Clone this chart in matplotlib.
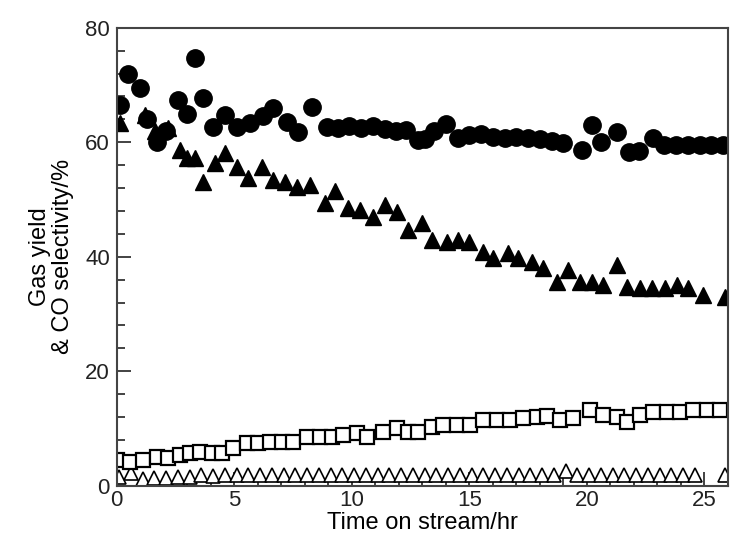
import matplotlib

matplotlib.use("Agg")

import matplotlib.pyplot as plt
from matplotlib.ticker import MultipleLocator

plt.rcParams["font.family"] = ["Liberation Sans", "DejaVu Sans"]

# gas yield (filled circles)
circle_x = [0.13, 0.47, 0.98, 1.3, 1.7, 2.1, 2.6, 2.98, 3.32, 3.66, 4.09, 4.6,
            5.1, 5.66, 6.2, 6.64, 7.23, 7.7, 8.3, 8.94, 9.4, 9.9, 10.4, 10.9,
            11.4, 11.9, 12.3, 12.8, 13.1, 13.5, 14.0, 14.5, 15.0, 15.5, 16.0,
            16.5, 17.0, 17.5, 18.0, 18.5, 19.0, 19.8, 20.2, 20.6, 21.3, 21.8,
            22.2, 22.8, 23.3, 23.8, 24.3, 24.8, 25.3, 25.8]
circle_y = [66.5, 72.0, 69.5, 64.0, 60.0, 62.0, 67.4, 65.0, 74.7, 67.8, 62.7,
            64.8, 62.7, 63.4, 64.5, 66.0, 63.6, 61.8, 66.2, 62.7, 62.5, 62.8,
            62.5, 62.8, 62.3, 62.0, 62.2, 60.4, 60.6, 62.0, 63.2, 60.8, 61.3,
            61.5, 61.0, 60.8, 61.0, 60.8, 60.5, 60.2, 59.8, 58.7, 63.0, 60.0,
            61.8, 58.3, 58.5, 60.8, 59.6, 59.6, 59.6, 59.6, 59.6, 59.6]

# CO selectivity (filled triangles)
tri_x = [0.13, 1.19, 1.62, 2.17, 2.68, 2.98, 3.32, 3.66, 4.17, 4.6, 5.1, 5.57,
         6.17, 6.64, 7.15, 7.66, 8.21, 8.85, 9.28, 9.83, 10.34, 10.89, 11.4,
         11.91, 12.38, 12.98, 13.4, 14.04, 14.5, 15.0, 15.57, 16.0, 16.64,
         17.06, 17.66, 18.13, 18.72, 19.19, 19.7, 20.21, 20.68, 21.28, 21.7,
         22.26, 22.77, 23.32, 23.83, 24.3, 24.94, 25.87]
tri_y = [63.4, 64.8, 62.0, 62.5, 58.7, 57.3, 57.3, 53.1, 56.4, 58.2, 55.7, 53.8,
         55.7, 53.4, 53.1, 52.1, 52.6, 49.4, 51.4, 48.6, 48.2, 47.0, 49.1, 47.9,
         44.7, 45.9, 43.0, 42.6, 43.0, 42.6, 40.9, 39.8, 40.7, 39.8, 39.0, 38.1,
         35.6, 37.7, 35.6, 35.6, 35.1, 38.6, 34.8, 34.6, 34.6, 34.6, 35.1, 34.6,
         33.4, 33.0]

# open squares
sq_x = [0.0, 0.55, 1.1, 1.7, 2.17, 2.68, 3.1, 3.53, 4.04, 4.47, 4.94, 5.53,
        6.0, 6.51, 7.02, 7.49, 8.09, 8.64, 9.15, 9.62, 10.2, 10.64, 11.32,
        11.91, 12.38, 12.81, 13.4, 13.87, 14.47, 15.02, 15.57, 16.17, 16.72,
        17.28, 17.87, 18.3, 18.85, 19.4, 20.13, 20.68, 21.28, 21.7, 22.26,
        22.81, 23.4, 23.96, 24.51, 25.1, 25.66]
sq_y = [4.5, 4.2, 4.5, 5.1, 4.9, 5.4, 5.8, 5.9, 5.8, 5.8, 6.6, 7.5, 7.5, 7.7,
        7.7, 7.7, 8.6, 8.6, 8.6, 8.9, 9.3, 8.6, 9.4, 10.1, 9.4, 9.4, 10.3, 10.7,
        10.7, 10.7, 11.5, 11.5, 11.5, 11.9, 12.1, 12.2, 11.5, 11.9, 13.3, 12.4,
        12.1, 11.2, 12.4, 12.9, 12.9, 12.9, 13.3, 13.3, 13.3]

# open triangles
otri_x = [0.1, 0.6, 1.1, 1.6, 2.1, 2.6, 3.1, 3.6, 4.1, 4.6, 5.1, 5.6, 6.1,
          6.6, 7.1, 7.6, 8.1, 8.6, 9.1, 9.6, 10.1, 10.6, 11.1, 11.6, 12.1,
          12.6, 13.1, 13.6, 14.1, 14.6, 15.1, 15.6, 16.1, 16.6, 17.1, 17.6,
          18.1, 18.6, 19.1, 19.6, 20.1, 20.6, 21.1, 21.6, 22.1, 22.6, 23.1,
          23.6, 24.1, 24.6, 25.9]
otri_y = [1.6, 2.2, 1.2, 1.4, 1.3, 1.6, 1.5, 1.8, 1.7, 1.8, 1.9, 1.9, 1.8,
          1.9, 1.8, 1.9, 1.8, 1.9, 1.8, 1.9, 1.8, 1.9, 1.8, 1.9, 1.8, 1.9,
          1.8, 1.9, 1.8, 1.9, 1.8, 1.9, 1.8, 1.9, 1.8, 1.9, 1.8, 1.9, 2.6,
          1.8, 1.9, 1.8, 1.9, 1.8, 1.9, 1.8, 1.9, 1.8, 1.9, 1.8, 1.9]

figure, axis = plt.subplots(figsize=(7.3, 5.44), dpi=100)
figure.subplots_adjust(left=0.160, right=0.997, bottom=0.107, top=0.949)

axis.plot(otri_x, otri_y, linestyle="none", marker="^", markersize=10,
          markerfacecolor="white", markeredgecolor="black", markeredgewidth=1.2)
axis.plot(sq_x, sq_y, linestyle="none", marker="s", markersize=9.5,
          markerfacecolor="white", markeredgecolor="black", markeredgewidth=1.6)
axis.plot(tri_x, tri_y, linestyle="none", marker="^", markersize=11.5,
          color="black")
axis.plot(circle_x, circle_y, linestyle="none", marker="o", markersize=12.5,
          color="black")

axis.set_xlim(0, 26)
axis.set_ylim(0, 80)
axis.xaxis.set_major_locator(MultipleLocator(5))
axis.xaxis.set_minor_locator(MultipleLocator(1))
axis.yaxis.set_major_locator(MultipleLocator(20))
axis.yaxis.set_minor_locator(MultipleLocator(4))
axis.tick_params(which="both", direction="in", top=False, right=False,
                 labelsize=16, width=1.2, colors="#222222")
axis.tick_params(which="major", length=10)
axis.tick_params(axis="x", which="major", pad=3)
axis.tick_params(axis="y", which="major", pad=5)
axis.tick_params(which="minor", length=6)
for spine in axis.spines.values():
    spine.set_linewidth(1.5)
    spine.set_color("#444444")

axis.set_xlabel("Time on stream/hr", fontsize=17, labelpad=1)
axis.set_ylabel("Gas yield\n& CO selectivity/%", fontsize=17, labelpad=8,
                linespacing=1.05)

figure.savefig("out.png", dpi=100)
